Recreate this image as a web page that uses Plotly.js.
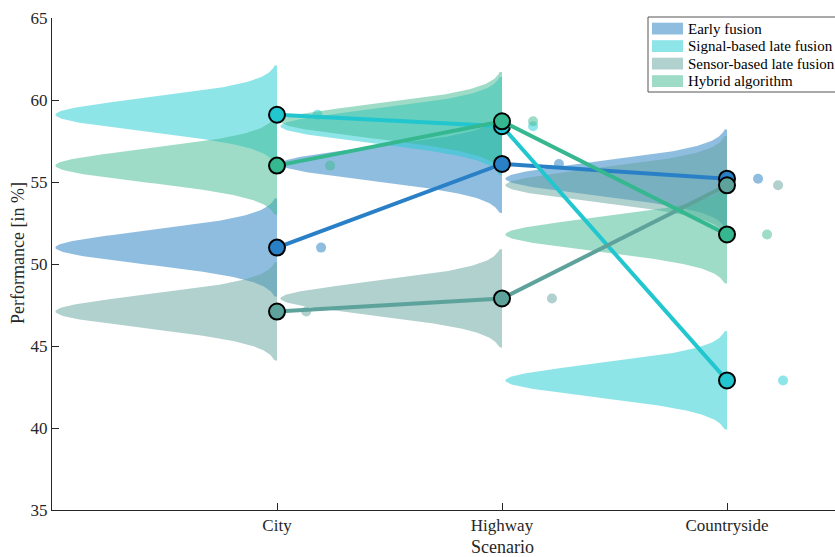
<!DOCTYPE html>
<html>
<head>
<meta charset="utf-8">
<script src="https://cdn.plot.ly/plotly-3.0.1.min.js"></script>
<style>
  html, body { margin: 0; padding: 0; background: #fff; }
  #chart { width: 835px; height: 557px; }
</style>
</head>
<body>
<div id="chart"></div>
<script>
// Scenarios on the x axis
const scenarios = ['City', 'Highway', 'Countryside'];

// Method names (legend order)
const methods = ['Early fusion', 'Signal-based late fusion', 'Sensor-based late fusion', 'Hybrid algorithm'];

// Performance [%] per scenario (City, Highway, Countryside)
const earlyFusion = [51.0, 56.1, 55.2];
const signalLateFusion = [59.1, 58.4, 42.9];
const sensorLateFusion = [47.1, 47.9, 54.8];
const hybridAlgorithm = [56.0, 58.7, 51.8];

const yTicks = [35, 40, 45, 50, 55, 60, 65];

// ---- styling ----
const lineColors = ['#2A80C6', '#22C6CF', '#5EA39B', '#35B78F'];
const fillColors = ['rgba(31,123,193,0.5)', 'rgba(29,203,209,0.5)', 'rgba(97,163,157,0.5)', 'rgba(61,185,145,0.5)'];
// horizontal jitter of the raw points to the right of each scenario
const dotOffsets = [
  [0.196, 0.253, 0.138],
  [0.180, 0.138, 0.249],
  [0.130, 0.222, 0.227],
  [0.236, 0.138, 0.178]
];
const FONT = '"Liberation Serif", "Times New Roman", serif';
const AXIS = '#262626';
const bandwidth = 1.0;      // kernel bandwidth in %
const halfWidth = 0.985;    // max extent of each half violin (x units)

const seriesValues = [earlyFusion, signalLateFusion, sensorLateFusion, hybridAlgorithm];

// kernel density outline of one group, drawn to the left of its scenario position
function halfViolin(samples, xPos) {
  const lo = Math.min(...samples) - 3 * bandwidth;
  const hi = Math.max(...samples) + 3 * bandwidth;
  const ys = [];
  for (let y = lo; y <= hi + 1e-9; y += 0.04) ys.push(y);
  const dens = ys.map(y => samples.reduce((s, v) => s + Math.exp(-0.5 * ((y - v) / bandwidth) ** 2), 0));
  const dmax = Math.max(...dens);
  const xs = dens.map(d => xPos - halfWidth * d / dmax);
  return { x: [xPos, ...xs, xPos], y: [lo, ...ys, hi] };
}

const traces = [];

// half violins + raw points
seriesValues.forEach((vals, si) => {
  vals.forEach((v, ci) => {
    const shape = halfViolin([v], ci + 1);
    traces.push({
      type: 'scatter', mode: 'lines', x: shape.x, y: shape.y,
      fill: 'toself', fillcolor: fillColors[si], line: { width: 0, color: fillColors[si] },
      showlegend: false, hoverinfo: 'skip'
    });
  });
  traces.push({
    type: 'scatter', mode: 'markers',
    x: vals.map((v, ci) => ci + 1 + dotOffsets[si][ci]), y: vals,
    marker: { size: 10, color: fillColors[si] },
    showlegend: false, hoverinfo: 'skip'
  });
});

// mean lines with markers
seriesValues.forEach((vals, si) => {
  traces.push({
    type: 'scatter', mode: 'lines+markers', name: methods[si],
    x: scenarios.map((s, ci) => ci + 1), y: vals,
    line: { color: lineColors[si], width: 4 },
    marker: { size: 16, color: lineColors[si], line: { color: '#000', width: 2 } },
    showlegend: false
  });
});

// plot area geometry (pixels)
const L = 52, R = 0, T = 18, B = 47, W = 835, H = 557;
const pw = W - L - R, ph = H - T - B;
const px = v => (v - L) / pw;
const py = v => (H - B - v) / ph;

// legend box
const shapes = [{
  type: 'rect', xref: 'paper', yref: 'paper', layer: 'above',
  x0: px(648), x1: px(845), y0: py(92), y1: py(17),
  fillcolor: '#ffffff', line: { color: '#555555', width: 1 }
}];
const annotations = [];
const rowTop = [22.7, 40.2, 57.7, 75.2];
methods.forEach((m, i) => {
  shapes.push({
    type: 'rect', xref: 'paper', yref: 'paper', layer: 'above',
    x0: px(652), x1: px(683), y0: py(rowTop[i] + 11.8), y1: py(rowTop[i]),
    fillcolor: fillColors[i], line: { width: 0 }
  });
  annotations.push({
    xref: 'paper', yref: 'paper', x: px(686), y: py(rowTop[i] + 6),
    xanchor: 'left', yanchor: 'middle', showarrow: false,
    text: m, font: { family: FONT, size: 15, color: '#000' }
  });
});

// axis titles
annotations.push({
  xref: 'paper', yref: 'paper', x: px(18), y: py(253), textangle: -90,
  xanchor: 'center', yanchor: 'middle', showarrow: false,
  text: 'Performance [in %]', font: { family: FONT, size: 18, color: AXIS }
});
annotations.push({
  xref: 'x', yref: 'paper', x: 2, y: py(547),
  xanchor: 'center', yanchor: 'middle', showarrow: false,
  text: 'Scenario', font: { family: FONT, size: 18, color: AXIS }
});

const layout = {
  width: W, height: H,
  margin: { l: L, r: R, t: T, b: B, pad: 0 },
  paper_bgcolor: '#fff', plot_bgcolor: '#fff',
  showlegend: false,
  font: { family: FONT, size: 17, color: AXIS },
  xaxis: {
    range: [0, 3.48], tickvals: [1, 2, 3], ticktext: scenarios,
    ticks: 'inside', ticklen: 7, tickwidth: 1, tickcolor: AXIS,
    showline: true, linecolor: AXIS, linewidth: 1,
    showgrid: false, zeroline: false,
    tickfont: { family: FONT, size: 17, color: AXIS }
  },
  yaxis: {
    range: [35, 65], tickvals: yTicks,
    ticks: 'inside', ticklen: 7, tickwidth: 1, tickcolor: AXIS,
    showline: true, linecolor: AXIS, linewidth: 1,
    showgrid: false, zeroline: false,
    tickfont: { family: FONT, size: 17, color: AXIS }
  },
  shapes: shapes,
  annotations: annotations
};

Plotly.newPlot('chart', traces, layout, { displayModeBar: false, staticPlot: true });
</script>
</body>
</html>
